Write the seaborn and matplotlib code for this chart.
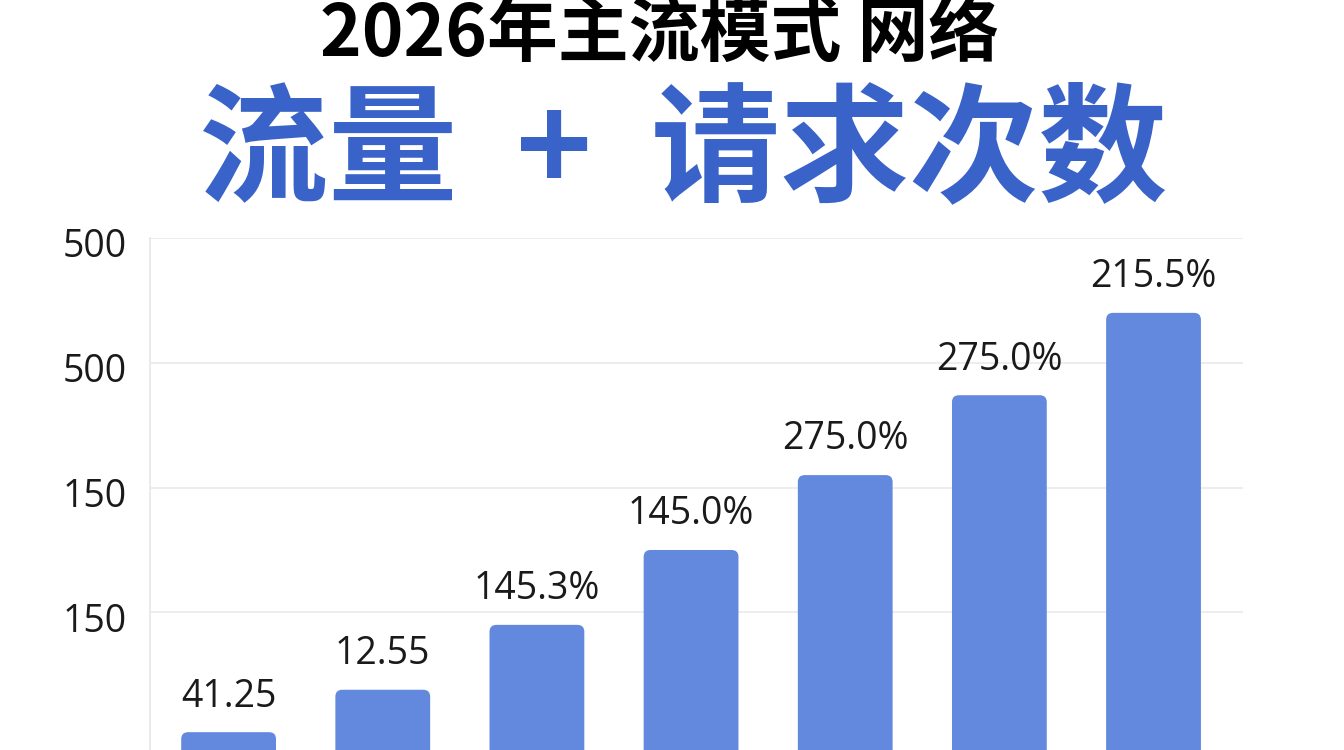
"""
Bar chart: 2026 mainstream mode network traffic + request count.
"""

import matplotlib
matplotlib.use("Agg")
import matplotlib.pyplot as plt
from matplotlib.patches import FancyBboxPatch
from matplotlib.transforms import ScaledTranslation
import seaborn as sns
import pandas as pd

# Data
categories = ["模式1", "模式2", "模式3", "模式4", "模式5", "模式6", "模式7"]
values = [104, 138, 190, 250, 310, 374, 440]
bar_labels = ["41.25", "12.55", "145.3%", "145.0%", "275.0%", "275.0%", "215.5%"]
tick_values = [200, 300, 400, 500]
tick_labels = ["150", "150", "500", "500"]

title_text = "2026年主流模式 网络"
subtitle_text = "流量  +  请求次数"

BAR_COLOR = "#6289de"
BLUE_TEXT = "#3a63c9"


def make_chart():
    sns.set_theme(style="white")
    plt.rcParams["font.family"] = ["Open Sans", "Noto Sans CJK SC", "DejaVu Sans"]

    df = pd.DataFrame({"category": categories, "value": values})

    fig = plt.figure(figsize=(13.44, 7.5), dpi=100)
    fig.patch.set_facecolor("white")
    # axes run off the bottom of the canvas, as in the cropped reference
    ax = fig.add_axes([0.1116, -0.1493, 0.8132, 0.832])

    sns.barplot(data=df, x="category", y="value", color=BAR_COLOR,
                width=0.615, saturation=1, ax=ax, zorder=3)

    # swap plain rectangles for slightly rounded ones
    x_px = 154.2          # pixels per category step
    y_px = 1.25           # pixels per value unit
    for p in list(ax.patches):
        rp = FancyBboxPatch((p.get_x(), p.get_y()), p.get_width(), p.get_height(),
                            boxstyle="round,pad=0,rounding_size=0.045",
                            mutation_aspect=x_px / y_px,
                            facecolor=BAR_COLOR, edgecolor="none", zorder=3)
        p.set_visible(False)
        ax.add_patch(rp)

    ax.bar_label(ax.containers[0], labels=bar_labels, padding=12,
                 fontsize=27, color="#1a1a1a")

    ax.set_ylim(0, 500)
    ax.set_xlim(-0.51, 6.58)
    ax.set_yticks(tick_values)
    ax.set_yticklabels(tick_labels, fontsize=27, color="#1a1a1a")
    ax.tick_params(axis="y", length=0, pad=17)
    # reference labels sit a little below their grid lines
    shift = ScaledTranslation(0, -0.05, fig.dpi_scale_trans)
    for lbl in ax.get_yticklabels():
        lbl.set_transform(lbl.get_transform() + shift)
    ax.set_xticks([])
    ax.set_xlabel("")
    ax.set_ylabel("")
    ax.yaxis.grid(True, color="#ececec", linewidth=1.3, zorder=0)
    ax.set_axisbelow(True)
    for side in ["top", "right", "bottom"]:
        ax.spines[side].set_visible(False)
    ax.spines["left"].set_color("#e8e8e8")
    ax.spines["left"].set_linewidth(1.3)

    fig.text(0.491, 0.953, title_text, ha="center", va="center",
             fontsize=51, fontweight="black", color="black",
             family=["Noto Sans CJK SC", "DejaVu Sans"])
    fig.text(0.508, 0.795, subtitle_text, ha="center", va="center",
             fontsize=93, fontweight="bold", color=BLUE_TEXT,
             family=["Noto Sans CJK SC", "DejaVu Sans"])

    fig.savefig("out.png", dpi=100, facecolor="white")
    plt.close(fig)


if __name__ == "__main__":
    make_chart()
